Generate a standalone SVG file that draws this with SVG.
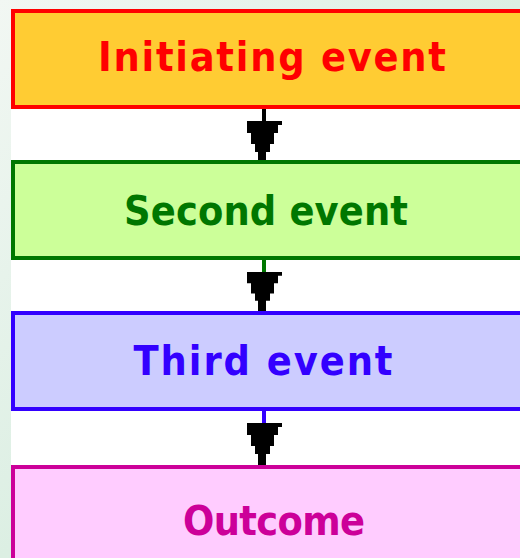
<svg xmlns="http://www.w3.org/2000/svg" width="520" height="558" viewBox="0 0 520 558">
<style>
.lbl{font-family:"DejaVu Sans Condensed","DejaVu Sans",sans-serif;font-stretch:condensed;font-weight:bold;font-size:41px;text-anchor:middle}
.box{stroke-width:4}
</style>
<defs>
<linearGradient id="bg" x1="0" y1="0" x2="1" y2="1">
<stop offset="0" stop-color="#f2f7f3"/>
<stop offset="0.5" stop-color="#dcefe3"/>
<stop offset="1" stop-color="#eaf5e4"/>
</linearGradient>
<path id="ah" d="M247,0 H282 V4 H278 V12 H274 V23 H270 V31 H266 V42 H258 V31 H255 V23 H251 V12 H247 Z" fill="#000"/>
</defs>
<rect x="0" y="0" width="520" height="558" fill="url(#bg)"/>
<rect x="11" y="9" width="509" height="549" fill="#ffffff"/>
<g id="connectors">
<line x1="264" y1="107" x2="264" y2="122" stroke="#000000" stroke-width="4"/>
<use href="#ah" transform="translate(0,121)"/>
<line x1="264" y1="258" x2="264" y2="273" stroke="#007700" stroke-width="4"/>
<use href="#ah" transform="translate(0,272) scale(1,0.93)"/>
<line x1="264" y1="409" x2="264" y2="424" stroke="#3300ff" stroke-width="4"/>
<use href="#ah" transform="translate(0,423)"/>
</g>
<g id="node-initiating">
<rect class="box" x="13" y="11" width="520" height="96" fill="#ffcc33" stroke="#ff0000"/>
<text class="lbl" x="272" y="71" fill="#ff0000" textLength="348" lengthAdjust="spacing">Initiating event</text>
</g>
<g id="node-second">
<rect class="box" x="13" y="162" width="520" height="96" fill="#ccff99" stroke="#007700"/>
<text class="lbl" x="266" y="225" fill="#007700" textLength="284" lengthAdjust="spacing">Second event</text>
</g>
<g id="node-third">
<rect class="box" x="13" y="313" width="520" height="96" fill="#ccccff" stroke="#3300ff"/>
<text class="lbl" x="263" y="375" fill="#3300ff" textLength="259" lengthAdjust="spacing">Third event</text>
</g>
<g id="node-outcome">
<rect class="box" x="13" y="467" width="520" height="120" fill="#ffccff" stroke="#cc0099"/>
<text class="lbl" x="274" y="535" fill="#cc0099" textLength="182" lengthAdjust="spacing">Outcome</text>
</g>
</svg>
